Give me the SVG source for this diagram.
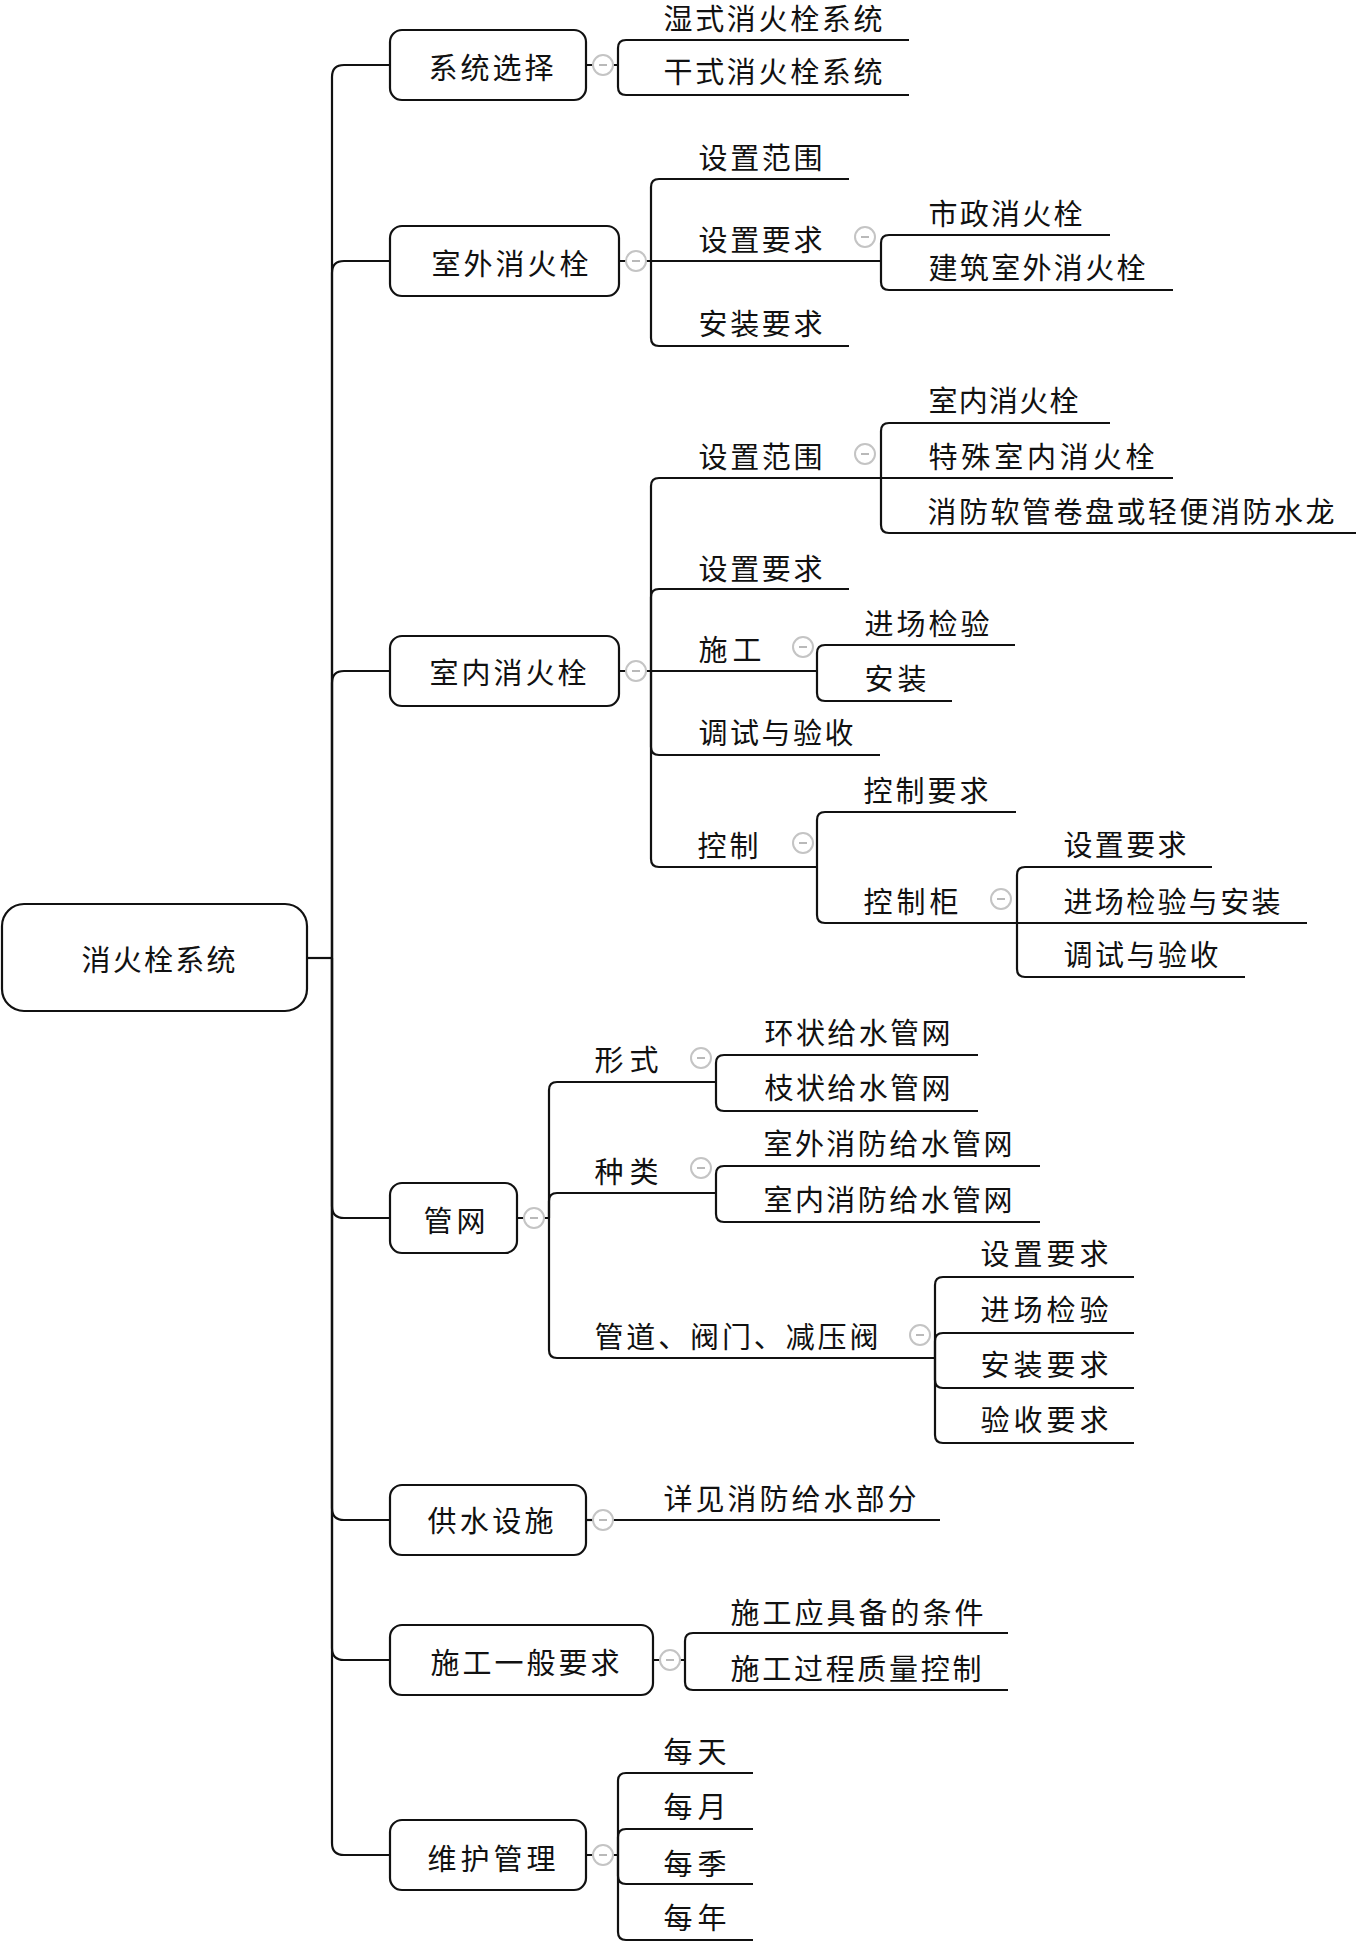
<svg xmlns="http://www.w3.org/2000/svg" width="1361" height="1942" viewBox="0 0 1361 1942">
<style>
.bg{fill:#ffffff}
.box{fill:#ffffff;stroke:#111;stroke-width:2.2}
.c{fill:none;stroke:#111;stroke-width:2.2;stroke-linejoin:round}
.t{font-family:"Noto Sans CJK SC","Noto Sans",sans-serif;font-size:29px;fill:#111;dominant-baseline:central}
.bc{fill:#fff;stroke:#c4c4c4;stroke-width:2}
.bm{stroke:#a8a8a8;stroke-width:1.6}
</style>
<rect class="bg" x="0" y="0" width="1361" height="1942"/>
<g id="connectors">
<path class="c" d="M307 958 H332"/>
<path class="c" d="M332 958 V77 Q332 65 344 65 H390"/>
<path class="c" d="M332 958 V273 Q332 261 344 261 H390"/>
<path class="c" d="M332 958 V683 Q332 671 344 671 H390"/>
<path class="c" d="M332 958 V1206 Q332 1218 344 1218 H390"/>
<path class="c" d="M332 958 V1508 Q332 1520 344 1520 H390"/>
<path class="c" d="M332 958 V1648 Q332 1660 344 1660 H390"/>
<path class="c" d="M332 958 V1843 Q332 1855 344 1855 H390"/>
<path class="c" d="M586 65 H593 M613 65 H618"/>
<path class="c" d="M619 261 H626 M646 261 H651"/>
<path class="c" d="M619 671 H626 M646 671 H651"/>
<path class="c" d="M517 1218 H524 M544 1218 H549"/>
<path class="c" d="M586 1520 H593"/>
<path class="c" d="M653 1660 H660 M680 1660 H685"/>
<path class="c" d="M586 1855 H593 M613 1855 H618"/>
<path class="c" d="M618 65 V48 Q618 40 626 40 H909"/>
<path class="c" d="M618 65 V87 Q618 95 626 95 H909"/>
<path class="c" d="M651 261 V187 Q651 179 659 179 H849"/>
<path class="c" d="M651 261 H881"/>
<path class="c" d="M651 261 V338 Q651 346 659 346 H849"/>
<path class="c" d="M881 261 V243 Q881 235 889 235 H1110"/>
<path class="c" d="M881 261 V282 Q881 290 889 290 H1173"/>
<path class="c" d="M651 671 V486 Q651 478 659 478 H881"/>
<path class="c" d="M651 671 V597 Q651 589 659 589 H849"/>
<path class="c" d="M651 671 H817"/>
<path class="c" d="M651 671 V747 Q651 755 659 755 H880"/>
<path class="c" d="M651 671 V859 Q651 867 659 867 H817"/>
<path class="c" d="M881 478 V431 Q881 423 889 423 H1110"/>
<path class="c" d="M881 478 H1173"/>
<path class="c" d="M881 478 V525 Q881 533 889 533 H1356"/>
<path class="c" d="M817 671 V653 Q817 645 825 645 H1015"/>
<path class="c" d="M817 671 V693 Q817 701 825 701 H952"/>
<path class="c" d="M817 867 V820 Q817 812 825 812 H1016"/>
<path class="c" d="M817 867 V915 Q817 923 825 923 H1017"/>
<path class="c" d="M1017 923 V875 Q1017 867 1025 867 H1212"/>
<path class="c" d="M1017 923 H1307"/>
<path class="c" d="M1017 923 V969 Q1017 977 1025 977 H1245"/>
<path class="c" d="M549 1218 V1090 Q549 1082 557 1082 H716"/>
<path class="c" d="M549 1218 V1201 Q549 1193 557 1193 H716"/>
<path class="c" d="M549 1218 V1350 Q549 1358 557 1358 H935"/>
<path class="c" d="M716 1082 V1063 Q716 1055 724 1055 H978"/>
<path class="c" d="M716 1082 V1103 Q716 1111 724 1111 H978"/>
<path class="c" d="M716 1193 V1174 Q716 1166 724 1166 H1040"/>
<path class="c" d="M716 1193 V1214 Q716 1222 724 1222 H1040"/>
<path class="c" d="M935 1358 V1285 Q935 1277 943 1277 H1134"/>
<path class="c" d="M935 1358 V1341 Q935 1333 943 1333 H1134"/>
<path class="c" d="M935 1358 V1380 Q935 1388 943 1388 H1134"/>
<path class="c" d="M935 1358 V1435 Q935 1443 943 1443 H1134"/>
<path class="c" d="M613 1520 H940"/>
<path class="c" d="M685 1660 V1641 Q685 1633 693 1633 H1008"/>
<path class="c" d="M685 1660 V1682 Q685 1690 693 1690 H1008"/>
<path class="c" d="M618 1855 V1781 Q618 1773 626 1773 H753"/>
<path class="c" d="M618 1855 V1837 Q618 1829 626 1829 H753"/>
<path class="c" d="M618 1855 V1876 Q618 1884 626 1884 H753"/>
<path class="c" d="M618 1855 V1932 Q618 1940 626 1940 H753"/>
</g>
<g id="root">
<rect class="box" x="2" y="904" width="305" height="107" rx="22"/>
<text class="t" x="81.5" y="958" textLength="154" lengthAdjust="spacing">消火栓系统</text>
</g>
<g id="n-xitong">
<rect class="box" x="390" y="30" width="196" height="70" rx="12"/>
<text class="t" x="428.5" y="66" textLength="125" lengthAdjust="spacing">系统选择</text>
<circle class="bc" cx="603" cy="65" r="10"/><line class="bm" x1="599" y1="65" x2="607" y2="65"/>
</g>
<g id="n-shishi"><text class="t" x="663.5" y="17" textLength="219" lengthAdjust="spacing">湿式消火栓系统</text></g>
<g id="n-ganshi"><text class="t" x="663.5" y="70" textLength="219" lengthAdjust="spacing">干式消火栓系统</text></g>
<g id="n-shiwai">
<rect class="box" x="390" y="226" width="229" height="70" rx="12"/>
<text class="t" x="431.5" y="262" textLength="157" lengthAdjust="spacing">室外消火栓</text>
<circle class="bc" cx="636" cy="261" r="10"/><line class="bm" x1="632" y1="261" x2="640" y2="261"/>
</g>
<g id="n-sw-fanwei"><text class="t" x="698.5" y="156" textLength="124" lengthAdjust="spacing">设置范围</text></g>
<g id="n-sw-yaoqiu">
<text class="t" x="698.5" y="238" textLength="124" lengthAdjust="spacing">设置要求</text>
<circle class="bc" cx="865" cy="237" r="10"/><line class="bm" x1="861" y1="237" x2="869" y2="237"/>
</g>
<g id="n-shizheng"><text class="t" x="928.5" y="212" textLength="154" lengthAdjust="spacing">市政消火栓</text></g>
<g id="n-jianzhu"><text class="t" x="928.5" y="266" textLength="217" lengthAdjust="spacing">建筑室外消火栓</text></g>
<g id="n-sw-anzhuang"><text class="t" x="698.5" y="322" textLength="124" lengthAdjust="spacing">安装要求</text></g>
<g id="n-shinei">
<rect class="box" x="390" y="636" width="229" height="70" rx="12"/>
<text class="t" x="429.5" y="671" textLength="157" lengthAdjust="spacing">室内消火栓</text>
<circle class="bc" cx="636" cy="671" r="10"/><line class="bm" x1="632" y1="671" x2="640" y2="671"/>
</g>
<g id="n-sn-fanwei">
<text class="t" x="698.5" y="455" textLength="124" lengthAdjust="spacing">设置范围</text>
<circle class="bc" cx="865" cy="454" r="10"/><line class="bm" x1="861" y1="454" x2="869" y2="454"/>
</g>
<g id="n-sn-leaf1"><text class="t" x="928.5" y="399" textLength="150" lengthAdjust="spacing">室内消火栓</text></g>
<g id="n-sn-leaf2"><text class="t" x="928.5" y="455" textLength="226" lengthAdjust="spacing">特殊室内消火栓</text></g>
<g id="n-sn-leaf3"><text class="t" x="927.5" y="510" textLength="407" lengthAdjust="spacing">消防软管卷盘或轻便消防水龙</text></g>
<g id="n-sn-yaoqiu"><text class="t" x="698.5" y="567" textLength="124" lengthAdjust="spacing">设置要求</text></g>
<g id="n-sn-shigong">
<text class="t" x="698.5" y="648" textLength="63" lengthAdjust="spacing">施工</text>
<circle class="bc" cx="803" cy="647" r="10"/><line class="bm" x1="799" y1="647" x2="807" y2="647"/>
</g>
<g id="n-sg-jinchang"><text class="t" x="864.5" y="622" textLength="125" lengthAdjust="spacing">进场检验</text></g>
<g id="n-sg-anzhuang"><text class="t" x="864.5" y="677" textLength="62" lengthAdjust="spacing">安装</text></g>
<g id="n-sn-tiaoshi"><text class="t" x="698.5" y="731" textLength="155" lengthAdjust="spacing">调试与验收</text></g>
<g id="n-sn-kongzhi">
<text class="t" x="697.5" y="844" textLength="61" lengthAdjust="spacing">控制</text>
<circle class="bc" cx="803" cy="843" r="10"/><line class="bm" x1="799" y1="843" x2="807" y2="843"/>
</g>
<g id="n-kz-yaoqiu"><text class="t" x="863.5" y="789" textLength="125" lengthAdjust="spacing">控制要求</text></g>
<g id="n-kz-gui">
<text class="t" x="863.5" y="900" textLength="95" lengthAdjust="spacing">控制柜</text>
<circle class="bc" cx="1001" cy="899" r="10"/><line class="bm" x1="997" y1="899" x2="1005" y2="899"/>
</g>
<g id="n-kg-yaoqiu"><text class="t" x="1063.5" y="843" textLength="123" lengthAdjust="spacing">设置要求</text></g>
<g id="n-kg-jinchang"><text class="t" x="1063.5" y="900" textLength="217" lengthAdjust="spacing">进场检验与安装</text></g>
<g id="n-kg-tiaoshi"><text class="t" x="1063.5" y="953" textLength="155" lengthAdjust="spacing">调试与验收</text></g>
<g id="n-guanwang">
<rect class="box" x="390" y="1183" width="127" height="70" rx="12"/>
<text class="t" x="423.5" y="1219" textLength="62" lengthAdjust="spacing">管网</text>
<circle class="bc" cx="534" cy="1218" r="10"/><line class="bm" x1="530" y1="1218" x2="538" y2="1218"/>
</g>
<g id="n-xingshi">
<text class="t" x="594.5" y="1058" textLength="64" lengthAdjust="spacing">形式</text>
<circle class="bc" cx="701" cy="1058" r="10"/><line class="bm" x1="697" y1="1058" x2="705" y2="1058"/>
</g>
<g id="n-huanzhuang"><text class="t" x="764.5" y="1031" textLength="186" lengthAdjust="spacing">环状给水管网</text></g>
<g id="n-zhizhuang"><text class="t" x="764.5" y="1086" textLength="186" lengthAdjust="spacing">枝状给水管网</text></g>
<g id="n-zhonglei">
<text class="t" x="594.5" y="1170" textLength="64" lengthAdjust="spacing">种类</text>
<circle class="bc" cx="701" cy="1168" r="10"/><line class="bm" x1="697" y1="1168" x2="705" y2="1168"/>
</g>
<g id="n-swgw"><text class="t" x="763.5" y="1142" textLength="249" lengthAdjust="spacing">室外消防给水管网</text></g>
<g id="n-sngw"><text class="t" x="763.5" y="1198" textLength="249" lengthAdjust="spacing">室内消防给水管网</text></g>
<g id="n-guandao">
<text class="t" x="594.5" y="1335" textLength="284" lengthAdjust="spacing">管道、阀门、减压阀</text>
<circle class="bc" cx="920" cy="1335" r="10"/><line class="bm" x1="916" y1="1335" x2="924" y2="1335"/>
</g>
<g id="n-gd-yaoqiu"><text class="t" x="980.5" y="1252" textLength="128" lengthAdjust="spacing">设置要求</text></g>
<g id="n-gd-jinchang"><text class="t" x="980.5" y="1308" textLength="128" lengthAdjust="spacing">进场检验</text></g>
<g id="n-gd-anzhuang"><text class="t" x="980.5" y="1363" textLength="128" lengthAdjust="spacing">安装要求</text></g>
<g id="n-gd-yanshou"><text class="t" x="980.5" y="1418" textLength="128" lengthAdjust="spacing">验收要求</text></g>
<g id="n-gongshui">
<rect class="box" x="390" y="1485" width="196" height="70" rx="12"/>
<text class="t" x="427.5" y="1519" textLength="126" lengthAdjust="spacing">供水设施</text>
<circle class="bc" cx="603" cy="1520" r="10"/><line class="bm" x1="599" y1="1520" x2="607" y2="1520"/>
</g>
<g id="n-xiangjian"><text class="t" x="663.5" y="1497" textLength="253" lengthAdjust="spacing">详见消防给水部分</text></g>
<g id="n-shigongyiban">
<rect class="box" x="390" y="1625" width="263" height="70" rx="12"/>
<text class="t" x="430.5" y="1661" textLength="189" lengthAdjust="spacing">施工一般要求</text>
<circle class="bc" cx="670" cy="1660" r="10"/><line class="bm" x1="666" y1="1660" x2="674" y2="1660"/>
</g>
<g id="n-tiaojian"><text class="t" x="730.5" y="1611" textLength="253" lengthAdjust="spacing">施工应具备的条件</text></g>
<g id="n-zhiliang"><text class="t" x="730.5" y="1667" textLength="251" lengthAdjust="spacing">施工过程质量控制</text></g>
<g id="n-weihu">
<rect class="box" x="390" y="1820" width="196" height="70" rx="12"/>
<text class="t" x="427.5" y="1857" textLength="128" lengthAdjust="spacing">维护管理</text>
<circle class="bc" cx="603" cy="1855" r="10"/><line class="bm" x1="599" y1="1855" x2="607" y2="1855"/>
</g>
<g id="n-meitian"><text class="t" x="663.5" y="1750" textLength="63" lengthAdjust="spacing">每天</text></g>
<g id="n-meiyue"><text class="t" x="663.5" y="1805" textLength="63" lengthAdjust="spacing">每月</text></g>
<g id="n-meiji"><text class="t" x="663.5" y="1862" textLength="63" lengthAdjust="spacing">每季</text></g>
<g id="n-meinian"><text class="t" x="663.5" y="1916" textLength="63" lengthAdjust="spacing">每年</text></g>
</svg>
